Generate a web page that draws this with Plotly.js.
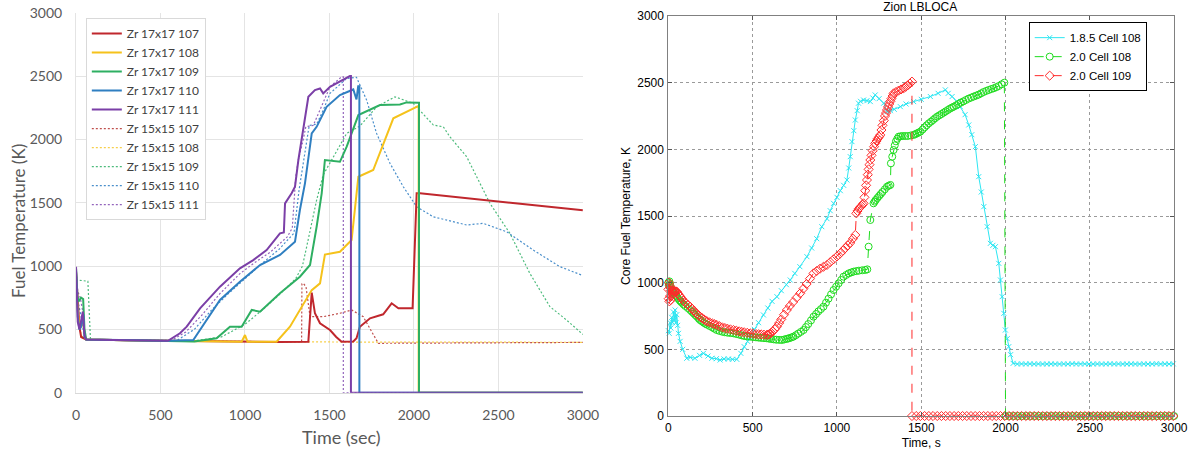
<!DOCTYPE html>
<html>
<head>
<meta charset="utf-8">
<script src="https://cdn.plot.ly/plotly-3.0.1.min.js"></script>
<style>html,body{margin:0;padding:0;background:#fff;}#chart{width:1192px;height:452px;}</style>
</head>
<body>
<div id="chart"></div>
<script>
// ---------- Left chart: Zr 17x17 / 15x15 cells ----------
const leftNames = ["Zr 17x17 107","Zr 17x17 108","Zr 17x17 109","Zr 17x17 110","Zr 17x17 111",
                   "Zr 15x15 107","Zr 15x15 108","Zr 15x15 109","Zr 15x15 110","Zr 15x15 111"];

const r17_t = [0,10,20,30,60,300,550,800,1000,1200,1375,1395,1414,1444,1503,1540,1572,1641,1660,1680,1740,1818,1868,1908,1992,2016,2036,2300,2600,3000];
const r17_T = [950,700,520,440,420,415,410,405,402,400,403,790,627,548,495,440,403,405,430,521,587,619,706,666,666,1574,1574,1535,1495,1440];

const y17_t = [0,10,20,40,55,60,300,550,800,980,1000,1015,1187,1266,1395,1444,1473,1562,1631,1671,1759,1878,2016,2028,2028,3000];
const y17_T = [950,650,520,560,430,420,415,410,405,402,455,402,403,521,810,863,1090,1113,1205,1705,1758,2166,2257,2265,0,0];

const g17_t = [0,8,15,30,42,50,60,300,550,700,832,911,980,1040,1089,1207,1325,1385,1424,1454,1473,1562,1602,1671,1799,1917,1957,2016,2030,2030,3000];
const g17_T = [980,760,720,750,740,500,420,415,410,405,429,521,521,653,640,785,916,1008,1310,1574,1837,1823,1942,2192,2271,2276,2292,2289,2289,0,0];

const b17_t = [0,10,20,30,43,50,60,300,550,694,773,852,970,1069,1089,1207,1296,1325,1355,1395,1424,1483,1562,1641,1660,1670,1677,1677,3000];
const b17_T = [960,600,500,520,620,440,420,415,410,416,574,732,876,982,1008,1087,1192,1442,1653,2047,2099,2257,2350,2394,2315,2420,2420,0,0];

const p17_t = [0,10,20,30,40,50,60,300,544,615,655,734,852,970,1049,1128,1207,1230,1237,1276,1296,1316,1345,1375,1414,1444,1463,1503,1621,1627,1627,3000];
const p17_T = [995,560,500,560,640,450,420,415,410,469,521,666,837,982,1047,1126,1258,1265,1495,1574,1626,1837,2099,2336,2389,2402,2363,2415,2500,2500,0,0];

const r15_t = [0,15,30,60,300,550,800,1000,1200,1335,1337,1345,1361,1385,1463,1562,1631,1700,1789,2000,2500,3000];
const r15_T = [900,600,440,420,415,410,405,402,400,400,860,863,837,600,600,627,653,600,390,392,395,397];

const y15_t = [0,15,30,60,300,550,800,1200,1600,2000,2500,3000];
const y15_T = [920,620,450,420,415,410,405,402,400,398,398,398];

const g15_t = [0,5,70,85,100,300,550,700,860,1000,1100,1200,1300,1340,1365,1424,1463,1602,1680,1779,1888,1996,2115,2174,2213,2312,2450,2568,2686,2805,2903,2992,3000];
const g15_T = [930,890,880,430,420,415,410,410,440,540,650,770,900,1000,1152,1521,1720,2047,2105,2257,2336,2284,2113,2099,2020,1863,1495,1258,942,679,574,469,460];

const b15_t = [0,15,30,50,60,300,550,600,700,800,900,1000,1100,1200,1290,1320,1360,1380,1424,1463,1503,1602,1660,1720,1779,1858,1937,2016,2114,2193,2272,2312,2410,2548,2706,2864,2992];
const b15_T = [950,700,600,430,420,415,410,415,500,650,780,900,1020,1130,1260,1600,1960,2110,2120,2230,2363,2481,2490,2310,2047,1811,1626,1468,1389,1363,1337,1324,1337,1271,1126,995,929];

const p15_t = [0,10,25,40,55,65,300,560,650,750,850,970,1050,1150,1250,1280,1300,1316,1345,1360,1404,1444,1503,1572,1582,1582,3000];
const p15_T = [980,800,750,640,430,420,415,410,480,620,780,940,1020,1110,1230,1300,1700,1840,2000,2100,2110,2230,2415,2494,2494,0,0];

// ---------- Right chart: Zion LBLOCA ----------
const rightNames = ["1.8.5 Cell 108","2.0 Cell 108","2.0 Cell 109"];

// 1.8.5 Cell 108 (transient part, then the long plateau)
const c185_t = [0,5,10,15,20,25,30,35,40,45,50,55,60,70,85,109,130,158,185,208,235,258,285,307,330,356,380,406,430,450,470,485,510,535,564,590,615,644,670,700,723,750,780,822,850,880,910,941,960,980,1000,1020,1040,1059,1070,1079,1089,1100,1109,1120,1128,1140,1158,1178,1198,1213,1227,1250,1277,1297,1317,1340,1376,1410,1455,1500,1554,1600,1643,1660,1683,1710,1732,1760,1782,1800,1821,1841,1856,1871,1891,1910,1925,1940,1960,1970,1980,1990,1999,2010,2019,2030,2045];
const c185_T = [640,620,700,660,740,700,780,720,795,700,760,680,620,560,500,433,440,433,455,470,450,433,430,420,428,428,425,425,470,520,560,595,650,700,758,810,860,895,940,985,1020,1070,1120,1195,1260,1330,1420,1480,1540,1595,1640,1690,1730,1770,1860,1945,2058,2140,2220,2290,2346,2360,2370,2365,2358,2385,2408,2380,2346,2283,2290,2300,2320,2340,2358,2375,2396,2420,2446,2420,2396,2360,2320,2260,2183,2110,2020,1795,1680,1570,1420,1295,1280,1270,1145,1020,895,770,645,580,520,460,395];
const c185_flat_t = [2070,2095,2120,2145,2170,2195,2220,2245,2270,2295,
                     2320,2345,2370,2395,2420,2445,2470,2495,2520,2545,
                     2570,2595,2620,2645,2670,2695,2720,2745,2770,2795,
                     2820,2845,2870,2895,2920,2945,2970,2995];
const c185_flat_T = [390,391,390,392,390,391,390,390,391,390,
                     390,391,390,392,390,390,391,390,390,391,
                     390,390,392,390,391,390,390,391,390,390,
                     391,390,390,392,390,391,390,391];

// 2.0 Cell 108 (rising curve, then values at zero after 2000 s)
const g20_t = [0,3,6,10,15,20,25,30,35,40,45,50,57,65,72,80,90,100,115,129,140,150,160,170,180,188,199,210,220,230,245,260,273,287,303,320,335,350,368,386,403,420,435,450,468,485,503,520,535,550,567,584,597,610,625,640,657,673,687,700,710,720,731,742,756,770,786,802,816,830,846,861,876,890,905,920,935,950,965,980,995,1010,1025,1039,1055,1070,1085,1099,1115,1130,1150,1168,1180,1188,1198,1217,1224,1230,1240,1250,1260,1270,1284,1297,1307,1317,1320,1328,1336,1343,1350,1358,1366,1378,1390,1405,1420,1438,1455,1465,1475,1485,1495,1508,1520,1532,1545,1558,1570,1582,1594,1607,1620,1633,1645,1658,1670,1682,1693,1707,1720,1735,1750,1765,1780,1796,1811,1826,1840,1855,1870,1885,1900,1915,1930,1945,1960,1977,1993];
const g20_T = [1000,980,1010,990,960,950,940,930,920,910,902,895,882,870,860,850,837,825,810,795,782,770,757,745,731,720,710,700,692,685,675,665,655,645,638,632,628,625,622,620,615,610,605,600,597,595,592,590,588,586,584,583,580,578,575,572,571,570,574,578,581,585,590,595,606,618,631,645,667,690,717,745,765,785,802,820,850,880,912,945,970,995,1020,1045,1058,1070,1077,1083,1087,1090,1093,1095,1100,1270,1470,1595,1608,1620,1635,1650,1665,1680,1700,1720,1727,1733,1895,1945,1995,2030,2060,2080,2095,2098,2100,2100,2100,2104,2108,2114,2120,2126,2133,2149,2165,2180,2195,2208,2220,2233,2245,2255,2265,2275,2285,2295,2305,2313,2320,2330,2340,2350,2360,2370,2380,2388,2396,2403,2410,2420,2430,2438,2445,2452,2458,2466,2475,2488,2500];
const g20_zero_t = [2000,2025,2050,2075,2100,2125,2150,2175,2200,2225,
                    2250,2275,2300,2325,2350,2375,2400,2425,2450,2475,
                    2500,2525,2550,2575,2600,2625,2650,2675,2700,2725,
                    2750,2775,2800,2825,2850,2875,2900,2925,2950,2975,
                    3000];
const g20_zero_T = [0,0,0,0,0,0,0,0,0,0,
                    0,0,0,0,0,0,0,0,0,0,
                    0,0,0,0,0,0,0,0,0,0,
                    0,0,0,0,0,0,0,0,0,0,
                    0];

// 2.0 Cell 109 (rising curve, then values at zero after 1445 s)
const r20_t = [0,2,4,6,8,10,12,14,16,18,20,25,30,35,40,45,50,57,65,72,80,90,100,115,129,140,150,160,170,180,188,199,210,220,230,245,260,273,287,303,320,335,350,368,386,403,420,435,450,468,485,503,520,535,550,567,584,592,600,610,620,632,644,657,670,686,703,721,740,761,782,801,820,840,861,880,900,920,941,960,980,1000,1020,1035,1050,1065,1080,1095,1109,1115,1122,1130,1138,1145,1152,1158,1163,1168,1173,1178,1183,1188,1193,1198,1205,1212,1220,1227,1235,1242,1250,1257,1264,1270,1278,1285,1291,1297,1303,1310,1317,1323,1330,1336,1350,1365,1380,1396,1408,1420,1433,1445];
const r20_T = [950,880,1000,860,980,900,960,870,940,900,920,940,935,938,935,935,933,920,905,893,880,865,850,835,820,805,790,777,765,754,745,735,725,717,710,702,695,689,683,674,665,660,655,650,645,640,635,631,628,624,620,617,615,613,612,610,608,611,615,624,635,651,670,697,725,760,795,826,855,888,920,955,990,1030,1070,1088,1105,1119,1133,1154,1175,1197,1220,1240,1260,1280,1300,1330,1358,1520,1538,1555,1566,1575,1585,1595,1640,1690,1730,1770,1810,1850,1885,1920,1955,1990,2020,2045,2063,2080,2094,2108,2145,2180,2215,2250,2272,2295,2318,2340,2360,2380,2400,2420,2430,2440,2449,2458,2469,2480,2494,2508];
const r20_zero_t = [1445,1470,1495,1520,1545,1570,1595,1620,1645,1670,
                    1695,1720,1745,1770,1795,1820,1845,1870,1895,1920,
                    1945,1970,1995,2020,2045,2070,2095,2120,2145,2170,
                    2195,2220,2245,2270,2295,2320,2345,2370,2395,2420,
                    2445,2470,2495,2520,2545,2570,2595,2620,2645,2670,
                    2695,2720,2745,2770,2795,2820,2845,2870,2895,2920,
                    2945,2970,2995];
const r20_zero_T = [0,0,0,0,0,0,0,0,0,0,
                    0,0,0,0,0,0,0,0,0,0,
                    0,0,0,0,0,0,0,0,0,0,
                    0,0,0,0,0,0,0,0,0,0,
                    0,0,0,0,0,0,0,0,0,0,
                    0,0,0,0,0,0,0,0,0,0,
                    0,0,0];

// ---------- Styles ----------
const solidColors = ["#C0272D","#F5C21B","#2EAF62","#2F7FC1","#7B3FA7"];
const dotColors   = ["#C0504D","#F7CF4A","#4DBB7C","#4A8FCB","#9364BC"];

const leftData = [
  [r17_t,r17_T],[y17_t,y17_T],[g17_t,g17_T],[b17_t,b17_T],[p17_t,p17_T],
  [r15_t,r15_T],[y15_t,y15_T],[g15_t,g15_T],[b15_t,b15_T],[p15_t,p15_T]
];

const traces = [];
const order = [5,6,7,8,9,0,1,2,3,4];
order.forEach(i => {
  const solid = i < 5;
  traces.push({
    x: leftData[i][0], y: leftData[i][1], name: leftNames[i],
    type: 'scatter', mode: 'lines', xaxis: 'x', yaxis: 'y', legend: 'legend',
    legendrank: i + 1, cliponaxis: false,
    line: solid ? {color: solidColors[i], width: 2} : {color: dotColors[i-5], width: 1.2, dash: '2px,2px'}
  });
});

traces.push({
  x: c185_t.concat(c185_flat_t), y: c185_T.concat(c185_flat_T), name: rightNames[0],
  type: 'scatter', mode: 'lines+markers',
  xaxis: 'x2', yaxis: 'y2', legend: 'legend2', legendrank: 1, cliponaxis: false,
  line: {color: '#2CE6F2', width: 1},
  marker: {symbol: 'x-thin-open', size: 5, color: '#2CE6F2', line: {color: '#2CE6F2', width: 1}}
});
traces.push({
  x: g20_t.concat(g20_zero_t), y: g20_T.concat(g20_zero_T), name: rightNames[1],
  type: 'scatter', mode: 'lines+markers',
  xaxis: 'x2', yaxis: 'y2', legend: 'legend2', legendrank: 2, cliponaxis: false,
  line: {color: '#1EDC1E', width: 1, dash: 'dash'},
  marker: {symbol: 'circle-open', size: 7, color: '#1EDC1E', line: {color: '#1EDC1E', width: 1}}
});
traces.push({
  x: r20_t.concat(r20_zero_t), y: r20_T.concat(r20_zero_T), name: rightNames[2],
  type: 'scatter', mode: 'lines+markers',
  xaxis: 'x2', yaxis: 'y2', legend: 'legend2', legendrank: 3, cliponaxis: false,
  line: {color: '#FF2A2A', width: 1, dash: 'dash'},
  marker: {symbol: 'diamond-open', size: 7, color: '#FF2A2A', line: {color: '#FF2A2A', width: 1}}
});

const leftFamily = 'Lato, "Open Sans", sans-serif';
const leftFont = {family: leftFamily, size: 14, color: '#595959'};
const rightFont = {family: '"Liberation Sans", Arial, sans-serif', size: 12, color: '#000'};

const layout = {
  width: 1192, height: 452,
  margin: {l: 0, r: 0, t: 0, b: 0},
  paper_bgcolor: '#fff', plot_bgcolor: '#fff',
  showlegend: true,
  title: {text: 'Zion LBLOCA', x: 0.772, xanchor: 'center', y: 0.985, yanchor: 'middle',
          font: {family: '"Liberation Sans", Arial, sans-serif', size: 12, color: '#000'}},
  annotations: [
    {text: 'Fuel Temperature (K)', xref: 'paper', yref: 'paper', x: 18/1192, y: (452-221)/452,
     xanchor: 'center', yanchor: 'middle', textangle: -90, showarrow: false,
     font: {family: leftFamily, size: 17, color: '#595959'}},
    {text: 'Time (sec)', xref: 'paper', yref: 'paper', x: 341/1192, y: (452-437)/452,
     xanchor: 'center', yanchor: 'middle', showarrow: false,
     font: {family: leftFamily, size: 18, color: '#595959'}}
  ],
  xaxis: {
    domain: [0.0638, 0.489], anchor: 'y', range: [0, 3000], dtick: 500, tick0: 0,
    showgrid: true, gridcolor: '#e4e4e4', gridwidth: 1, zeroline: false,
    showline: true, linecolor: '#d9d9d9', ticks: '', ticklabelstandoff: 10,
    tickfont: leftFont
  },
  yaxis: {
    domain: [0.1312, 0.9719], anchor: 'x', range: [0, 3000], dtick: 500, tick0: 0,
    showgrid: true, gridcolor: '#e4e4e4', gridwidth: 1, zeroline: false,
    showline: true, linecolor: '#e4e4e4', ticks: '', ticklabelstandoff: 10,
    tickfont: leftFont
  },
  xaxis2: {
    domain: [0.5607, 0.985], anchor: 'y2', range: [0, 3000], dtick: 500, tick0: 0,
    showgrid: true, gridcolor: '#9a9a9a', griddash: 'dot', gridwidth: 1, zeroline: false,
    showline: true, linecolor: '#808080', mirror: 'allticks', ticks: 'inside', ticklen: 4, tickcolor: '#555',
    ticklabelstandoff: 1, tickfont: rightFont,
    title: {text: 'Time, s', font: rightFont, standoff: 4}
  },
  yaxis2: {
    domain: [0.0796, 0.9646], anchor: 'x2', range: [0, 3000], dtick: 500, tick0: 0,
    showgrid: true, gridcolor: '#9a9a9a', griddash: 'dot', gridwidth: 1, zeroline: false,
    showline: true, linecolor: '#808080', mirror: 'allticks', ticks: 'inside', ticklen: 4, tickcolor: '#555',
    ticklabelstandoff: 1, tickfont: rightFont,
    title: {text: 'Core Fuel Temperature, K', font: rightFont, standoff: 4}
  },
  legend: {
    x: 0.072, y: 0.96, xanchor: 'left', yanchor: 'top', traceorder: 'normal',
    bgcolor: '#fff', bordercolor: '#d9d9d9', borderwidth: 1, tracegroupgap: 0,
    font: {family: leftFamily, size: 12, color: '#404040'}
  },
  legend2: {
    x: 0.962, y: 0.951, xanchor: 'right', yanchor: 'top', traceorder: 'normal',
    bgcolor: '#fff', bordercolor: '#000', borderwidth: 1, tracegroupgap: 0,
    font: {family: '"Liberation Sans", Arial, sans-serif', size: 11.5, color: '#000'}
  }
};

Plotly.newPlot('chart', traces, layout, {staticPlot: true, displayModeBar: false});
</script>
</body>
</html>
